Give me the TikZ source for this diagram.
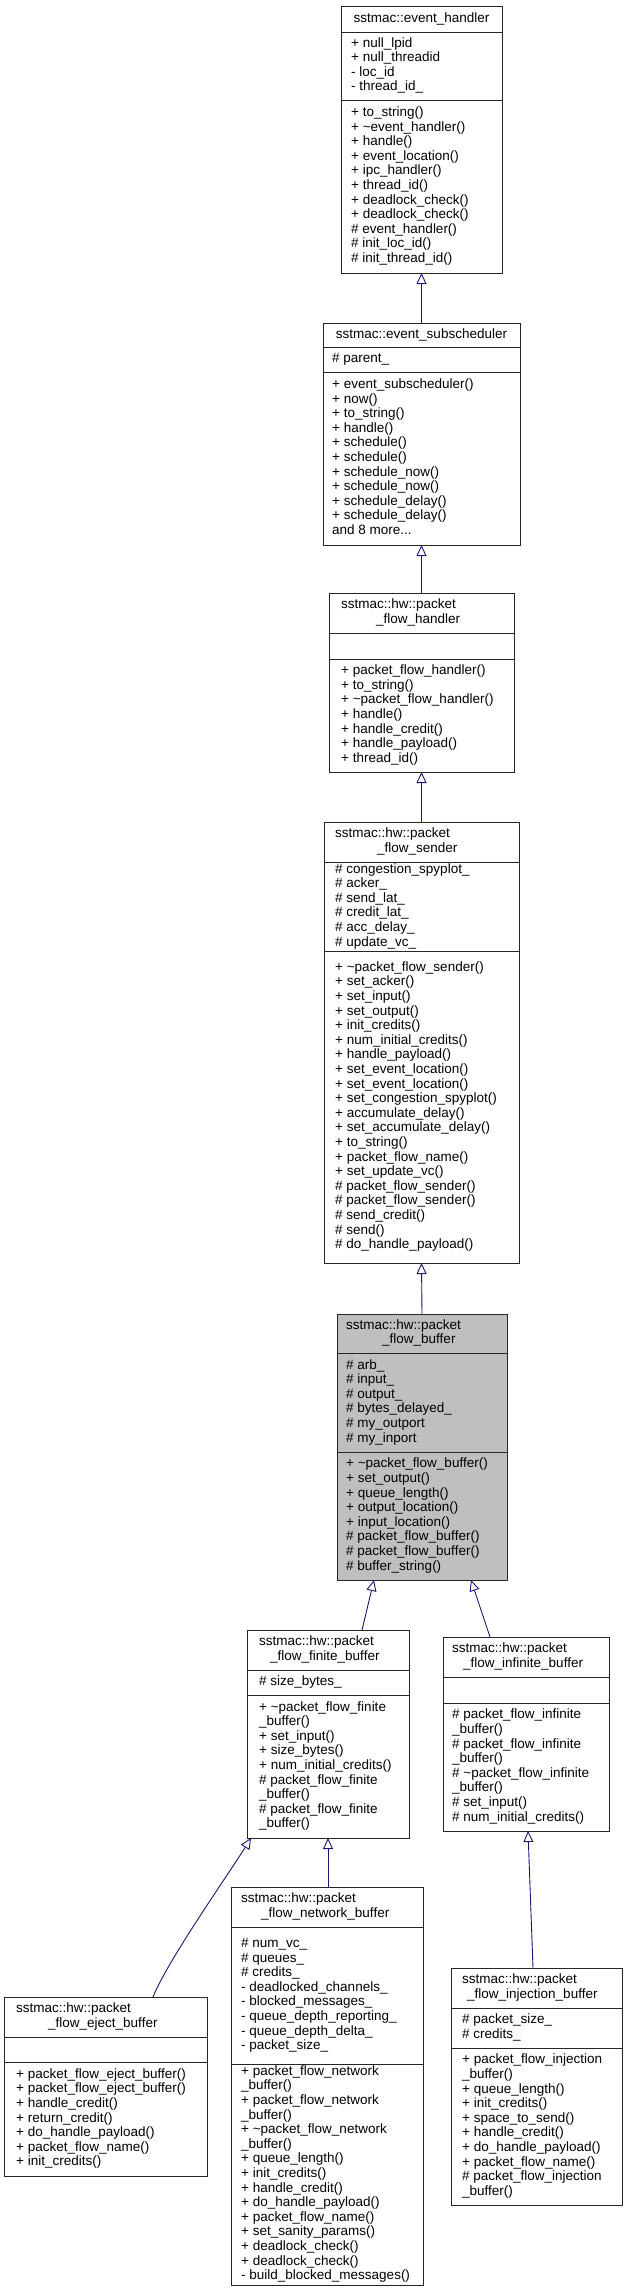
\documentclass[tikz,border=0pt]{standalone}
\usepackage{fontspec}
\setmainfont{Liberation Sans}
\usetikzlibrary{arrows.meta}
\definecolor{edgeblue}{HTML}{191970}
\definecolor{bufgray}{HTML}{BFBFBF}
\newcommand\strutx{\vrule height 10.3pt depth 4.3pt width 0pt}
\newcommand\mlines[2][14.6pt]{\vbox{\baselineskip=#1\lineskiplimit=-100pt\lineskip=0pt\let\\\cr\halign{\strutx##\hfil\cr#2\crcr}}}
\newcommand\classbox[8]{%
  \node[cbox, fill=#8, minimum width={#4-#2}, minimum height={#5-#3}, anchor=north west] (#1) at (#2,#3) {};
  \draw[cline] (#2,#6) -- (#4,#6);
  \draw[cline] (#2,#7) -- (#4,#7);}
\tikzset{
  cbox/.style={draw=black!85, line width=1pt, inner sep=0pt, outer sep=0pt, rectangle},
  cline/.style={draw=black!85, line width=1pt},
  txt/.style={inner sep=0pt, outer sep=0pt, font=\fontsize{13.5pt}{14.6pt}\selectfont},
  inh/.style={draw=edgeblue, line width=0.9pt, -{Triangle[fill=white, length=11pt, width=10pt]}},
}
\catcode`\_=12
\begin{document}
\begin{tikzpicture}[x=1pt,y=-1pt]
\fill[white] (0,0) rectangle (627,2292);
\useasboundingbox (0,0) rectangle (627,2292);

% event_handler
\classbox{eh}{341}{6}{502}{273}{32}{100}{white}
\node[txt] (ehh) at (421.5,19) {\mlines{sstmac::event_handler}};
\node[txt, anchor=west] (eha) at (351.2,66) {\mlines{+ null_lpid\\+ null_threadid\\- loc_id\\- thread_id_}};
\node[txt, anchor=west] (ehm) at (351.2,186.5) {\mlines{+ to_string()\\+ \textasciitilde event_handler()\\+ handle()\\+ event_location()\\+ ipc_handler()\\+ thread_id()\\+ deadlock_check()\\+ deadlock_check()\\\# event_handler()\\\# init_loc_id()\\\# init_thread_id()}};

% event_subscheduler
\classbox{es}{323}{323}{520}{545}{347}{372}{white}
\node[txt] (esh) at (421.5,335) {\mlines{sstmac::event_subscheduler}};
\node[txt, anchor=west] (esa) at (332.2,359.5) {\mlines{\# parent_}};
\node[txt, anchor=west] (esm) at (332.2,458.5) {\mlines{+ event_subscheduler()\\+ now()\\+ to_string()\\+ handle()\\+ schedule()\\+ schedule()\\+ schedule_now()\\+ schedule_now()\\+ schedule_delay()\\+ schedule_delay()\\and 8 more...}};

% packet_flow_handler
\classbox{pfh}{329}{593}{514}{772}{633}{659}{white}
\node[txt, anchor=west] (pfhh) at (341.2,613) {\mlines{sstmac::hw::packet\\\kern35pt_flow_handler}};
\node[txt, anchor=west] (pfhm) at (341.2,715.5) {\mlines{+ packet_flow_handler()\\+ to_string()\\+ \textasciitilde packet_flow_handler()\\+ handle()\\+ handle_credit()\\+ handle_payload()\\+ thread_id()}};

% packet_flow_sender
\classbox{snd}{324}{822}{519}{1263}{862}{951}{white}
\node[txt, anchor=west] (sndh) at (335.2,842) {\mlines{sstmac::hw::packet\\\kern42pt_flow_sender}};
\node[txt, anchor=west] (snda) at (335.2,906.5) {\mlines{\# congestion_spyplot_\\\# acker_\\\# send_lat_\\\# credit_lat_\\\# acc_delay_\\\# update_vc_}};
\node[txt, anchor=west] (sndm) at (335.2,1107) {\mlines{+ \textasciitilde packet_flow_sender()\\+ set_acker()\\+ set_input()\\+ set_output()\\+ init_credits()\\+ num_initial_credits()\\+ handle_payload()\\+ set_event_location()\\+ set_event_location()\\+ set_congestion_spyplot()\\+ accumulate_delay()\\+ set_accumulate_delay()\\+ to_string()\\+ packet_flow_name()\\+ set_update_vc()\\\# packet_flow_sender()\\\# packet_flow_sender()\\\# send_credit()\\\# send()\\\# do_handle_payload()}};

% packet_flow_buffer
\classbox{buf}{337}{1314}{507}{1580}{1353}{1452}{bufgray}
\node[txt, anchor=west] (bufh) at (346.2,1333.5) {\mlines{sstmac::hw::packet\\\kern36pt_flow_buffer}};
\node[txt, anchor=west] (bufa) at (346.2,1402.5) {\mlines{\# arb_\\\# input_\\\# output_\\\# bytes_delayed_\\\# my_outport\\\# my_inport}};
\node[txt, anchor=west] (bufm) at (346.2,1516) {\mlines{+ \textasciitilde packet_flow_buffer()\\+ set_output()\\+ queue_length()\\+ output_location()\\+ input_location()\\\# packet_flow_buffer()\\\# packet_flow_buffer()\\\# buffer_string()}};

% packet_flow_finite_buffer
\classbox{fin}{247}{1630}{409}{1838}{1670}{1695}{white}
\node[txt, anchor=west] (finh) at (259.2,1650) {\mlines{sstmac::hw::packet\\\kern11pt_flow_finite_buffer}};
\node[txt, anchor=west] (fina) at (259.2,1682.5) {\mlines{\# size_bytes_}};
\node[txt, anchor=west] (finm) at (259.2,1766.5) {\mlines{+ \textasciitilde packet_flow_finite\\_buffer()\\+ set_input()\\+ size_bytes()\\+ num_initial_credits()\\\# packet_flow_finite\\_buffer()\\\# packet_flow_finite\\_buffer()}};

% packet_flow_infinite_buffer
\classbox{inf}{443}{1637}{609}{1831}{1677}{1703}{white}
\node[txt, anchor=west] (infh) at (452.2,1657) {\mlines{sstmac::hw::packet\\\kern11pt_flow_infinite_buffer}};
\node[txt, anchor=west] (infm) at (452.2,1767) {\mlines{\# packet_flow_infinite\\_buffer()\\\# packet_flow_infinite\\_buffer()\\\# \textasciitilde packet_flow_infinite\\_buffer()\\\# set_input()\\\# num_initial_credits()}};

% packet_flow_eject_buffer
\classbox{ej}{4}{1997}{207}{2176}{2037}{2062}{white}
\node[txt, anchor=west] (ejh) at (16.2,2017) {\mlines{sstmac::hw::packet\\\kern32pt_flow_eject_buffer}};
\node[txt, anchor=west] (ejm) at (16.2,2119) {\mlines{+ packet_flow_eject_buffer()\\+ packet_flow_eject_buffer()\\+ handle_credit()\\+ return_credit()\\+ do_handle_payload()\\+ packet_flow_name()\\+ init_credits()}};

% packet_flow_network_buffer
\classbox{net}{231}{1887}{423}{2285}{1927}{2064}{white}
\node[txt, anchor=west] (neth) at (241.2,1907) {\mlines{sstmac::hw::packet\\\kern20pt_flow_network_buffer}};
\node[txt, anchor=west] (neta) at (241.2,1995.5) {\mlines{\# num_vc_\\\# queues_\\\# credits_\\- deadlocked_channels_\\- blocked_messages_\\- queue_depth_reporting_\\- queue_depth_delta_\\- packet_size_}};
\node[txt, anchor=west] (netm) at (241.2,2174.5) {\mlines{+ packet_flow_network\\_buffer()\\+ packet_flow_network\\_buffer()\\+ \textasciitilde packet_flow_network\\_buffer()\\+ queue_length()\\+ init_credits()\\+ handle_credit()\\+ do_handle_payload()\\+ packet_flow_name()\\+ set_sanity_params()\\+ deadlock_check()\\+ deadlock_check()\\- build_blocked_messages()}};

% packet_flow_injection_buffer
\classbox{inj}{451}{1968}{622}{2205}{2008}{2048}{white}
\node[txt, anchor=west] (injh) at (462.2,1988) {\mlines{sstmac::hw::packet\\\kern5pt_flow_injection_buffer}};
\node[txt, anchor=west] (inja) at (462.2,2028) {\mlines{\# packet_size_\\\# credits_}};
\node[txt, anchor=west] (injm) at (462.2,2126.5) {\mlines{+ packet_flow_injection\\_buffer()\\+ queue_length()\\+ init_credits()\\+ space_to_send()\\+ handle_credit()\\+ do_handle_payload()\\+ packet_flow_name()\\\# packet_flow_injection\\_buffer()}};

% inheritance edges
\draw[inh] (es.north) -- (eh.south);
\draw[inh] (pfh.north) -- (es.south);
\draw[inh] (snd.north) -- (pfh.south);
\draw[inh] (buf.north) -- (snd.south);
\draw[inh] ([xshift=34pt]fin.north) -- ([xshift=-48pt]buf.south);
\draw[inh] ([xshift=-36pt]inf.north) -- ([xshift=49pt]buf.south);
\draw[inh] ([xshift=47.5pt]ej.north) .. controls +(15,-37) and +(-25,40) .. ([xshift=4pt]fin.south west);
\draw[inh] ([xshift=1pt]net.north) -- (fin.south);
\draw[inh] ([xshift=-3.5pt]inj.north) -- ([xshift=2pt]inf.south);
\end{tikzpicture}
\end{document}
